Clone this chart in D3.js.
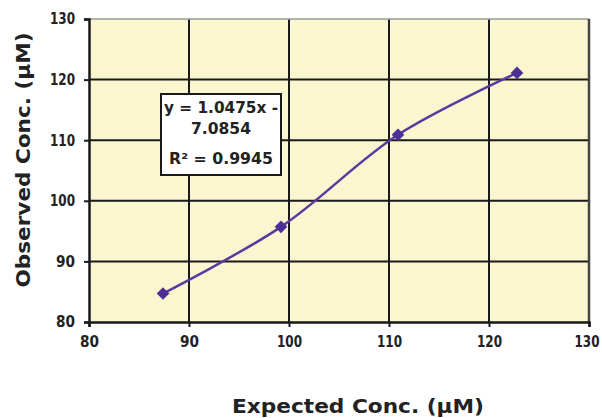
<!DOCTYPE html>
<html><head><meta charset="utf-8">
<script src="https://cdn.jsdelivr.net/npm/d3@7"></script>
<style>body{margin:0;background:#fff}svg{display:block}text{font-family:"DejaVu Sans",sans-serif;font-weight:700;fill:#222}</style>
</head><body><svg id="c" width="602" height="418"></svg>
<script>
const expected = [87.4, 99.2, 110.9, 122.8];
const observed = [84.7, 95.7, 110.9, 121.1];
const xTicks = [80, 90, 100, 110, 120, 130];
const yTicks = [80, 90, 100, 110, 120, 130];
const eqLines = ["y = 1.0475x -", "7.0854", "R\u00B2 = 0.9945"];
const xTitle = "Expected Conc. (\u00B5M)";
const yTitle = "Observed Conc. (\u00B5M)";

const svg = d3.select("#c");
const L = 89, R = 589, T = 19, B = 322;
const x = d3.scaleLinear().domain([80, 130]).range([L, R]);
const y = d3.scaleLinear().domain([80, 130]).range([B, T]);

svg.append("rect").attr("x", L).attr("y", T).attr("width", R - L).attr("height", B - T).attr("fill", "#FAF6D0");
// grid
svg.append("g").selectAll("line").data(xTicks.slice(1, -1)).join("line")
  .attr("x1", d => x(d)).attr("x2", d => x(d)).attr("y1", T).attr("y2", B)
  .attr("stroke", "#1a1a1a").attr("stroke-width", 2);
svg.append("g").selectAll("line").data(yTicks.slice(1, -1)).join("line")
  .attr("y1", d => y(d)).attr("y2", d => y(d)).attr("x1", L).attr("x2", R)
  .attr("stroke", "#1a1a1a").attr("stroke-width", 2);
// borders
svg.append("line").attr("x1", L).attr("x2", R).attr("y1", T).attr("y2", T).attr("stroke", "#999").attr("stroke-width", 1.5);
svg.append("line").attr("x1", R).attr("x2", R).attr("y1", T).attr("y2", B).attr("stroke", "#444").attr("stroke-width", 2.5);

// axes
const xAxis = svg.append("g").attr("transform", `translate(0,${B})`)
  .call(d3.axisBottom(x).tickValues(xTicks).tickSize(5).tickPadding(9).tickFormat(d3.format("d")));
const yAxis = svg.append("g").attr("transform", `translate(${L},0)`)
  .call(d3.axisLeft(y).tickValues(yTicks).tickSize(5).tickPadding(9).tickFormat(d3.format("d")));
[xAxis, yAxis].forEach(a => {
  a.select(".domain").attr("stroke", "#1a1a1a").attr("stroke-width", 2.5);
  a.selectAll(".tick line").attr("stroke", "#1a1a1a").attr("stroke-width", 2);
  a.selectAll(".tick text").attr("font-size", 15).attr("font-family", "DejaVu Sans, sans-serif").attr("font-weight", 700).attr("fill", "#222")
    .attr("textLength", d => String(d).length > 2 ? 25 : 19).attr("lengthAdjust", "spacingAndGlyphs");
});
xAxis.selectAll(".tick text").filter(d => d === xTicks[xTicks.length - 1])
  .attr("text-anchor", "end").attr("dx", 10);

// line
const pts = expected.map((e, i) => [e, observed[i]]);
svg.append("path").datum(pts)
  .attr("d", d3.line().x(d => x(d[0])).y(d => y(d[1])).curve(d3.curveCatmullRom.alpha(0.5)))
  .attr("fill", "none").attr("stroke", "#5B3AA0").attr("stroke-width", 2.5);
svg.append("g").selectAll("path").data(pts).join("path")
  .attr("transform", d => `translate(${x(d[0])},${y(d[1])}) rotate(45)`)
  .attr("d", d3.symbol(d3.symbolSquare, 80))
  .attr("fill", "#4E2F96");

// equation box
const bx = 161, by = 94, bw = 120, bh = 81;
svg.append("rect").attr("x", bx).attr("y", by).attr("width", bw).attr("height", bh)
  .attr("fill", "#fff").attr("stroke", "#1a1a1a").attr("stroke-width", 2);
const lineY = [113, 134, 164];
const lineW = [114, 60, 104];
svg.append("g").selectAll("text").data(eqLines).join("text")
  .attr("x", bx + bw / 2).attr("y", (d, i) => lineY[i]).attr("text-anchor", "middle")
  .attr("font-size", 15).attr("textLength", (d, i) => lineW[i]).attr("lengthAdjust", "spacingAndGlyphs").text(d => d);

// titles
svg.append("text").attr("x", 358).attr("y", 413).attr("text-anchor", "middle").attr("font-size", 19)
  .attr("textLength", 252).attr("lengthAdjust", "spacingAndGlyphs").text(xTitle);
svg.append("text").attr("transform", `translate(30,160) rotate(-90)`).attr("text-anchor", "middle").attr("font-size", 19)
  .attr("textLength", 255).attr("lengthAdjust", "spacingAndGlyphs").text(yTitle);
</script></body></html>
